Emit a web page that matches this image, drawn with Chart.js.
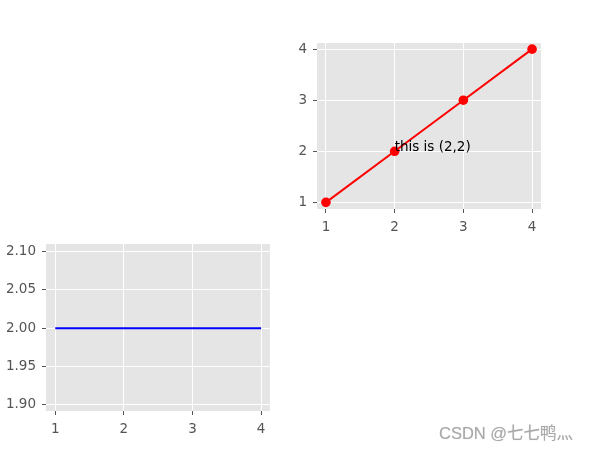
<!DOCTYPE html>
<html>
<head>
<meta charset="utf-8">
<script src="https://cdn.jsdelivr.net/npm/chart.js@4/dist/chart.umd.min.js"></script>
<style>
  body { margin: 0; background: #fff; }
  #wrap { position: relative; width: 590px; height: 449px; overflow: hidden; }
  canvas { position: absolute; left: 0; top: 0; }
  #mark {
    position: absolute; left: 439px; top: 425px;
    font: 16.5px/16px "Liberation Sans", "Noto Sans CJK SC", sans-serif;
    color: #a9a9a9; white-space: nowrap;
    text-shadow: 0 0 1px #d0d0d0;
  }
</style>
</head>
<body>
<div id="wrap">
  <canvas id="topChart" width="590" height="449"></canvas>
  <canvas id="bottomChart" width="590" height="449"></canvas>
  <div id="mark">CSDN @七七鸭灬</div>
</div>
<script>
// top-right subplot
const topX = [1, 2, 3, 4];
const topY = [1, 2, 3, 4];
const topXTicks = [1, 2, 3, 4];
const topYTicks = [1, 2, 3, 4];
const noteText = 'this is (2,2)';
const notePoint = [2, 2];

// bottom-left subplot
const bottomX = [1, 2, 3, 4];
const bottomY = [2, 2, 2, 2];
const bottomXTicks = [1, 2, 3, 4];
const bottomYTicks = [1.90, 1.95, 2.00, 2.05, 2.10];

Chart.defaults.font.family = "'DejaVu Sans', sans-serif";
Chart.defaults.font.size = 13.5;
Chart.defaults.color = '#555';

const panelBg = {
  id: 'panelBg',
  beforeDraw(chart) {
    const a = chart.chartArea;
    const ctx = chart.ctx;
    ctx.save();
    ctx.fillStyle = '#e5e5e5';
    ctx.fillRect(a.left, a.top, a.right - a.left, a.bottom - a.top);
    ctx.restore();
  },
};

const noteLabel = {
  id: 'noteLabel',
  afterDatasetsDraw(chart) {
    const ctx = chart.ctx;
    const px = chart.scales.x.getPixelForValue(notePoint[0]);
    const py = chart.scales.y.getPixelForValue(notePoint[1]);
    ctx.save();
    ctx.fillStyle = '#000';
    ctx.font = "13.5px 'DejaVu Sans', sans-serif";
    ctx.textAlign = 'left';
    ctx.textBaseline = 'alphabetic';
    ctx.fillText(noteText, px, py);
    ctx.restore();
  },
};

function makeAxis(min, max, ticks, size, fmt) {
  return {
    type: 'linear',
    min: min,
    max: max,
    afterBuildTicks: (scale) => {
      scale.ticks = ticks.map((v) => ({ value: v }));
    },
    afterFit: (scale) => {
      if (scale.isHorizontal()) scale.height = size;
      else scale.width = size;
    },
    border: { display: false },
    grid: { color: '#fff', lineWidth: 1, tickColor: '#555', tickLength: 4 },
    ticks: { padding: 6, callback: fmt || ((v) => v) },
  };
}

function pairs(xs, ys) {
  return xs.map((x, i) => ({ x: x, y: ys[i] }));
}

new Chart(document.getElementById('topChart'), {
  type: 'line',
  data: {
    datasets: [
      {
        data: pairs(topX, topY),
        borderColor: '#ff0000',
        backgroundColor: '#ff0000',
        borderWidth: 2,
        pointRadius: 4.8,
        pointBorderWidth: 0,
        tension: 0,
      },
    ],
  },
  options: {
    responsive: false,
    animation: false,
    layout: { padding: { top: 43, right: 49, left: 0, bottom: 0 } },
    plugins: { legend: { display: false }, tooltip: { enabled: false } },
    scales: {
      x: makeAxis(0.87, 4.13, topXTicks, 240),
      y: makeAxis(0.87, 4.12, topYTicks, 317),
    },
  },
  plugins: [panelBg, noteLabel],
});

new Chart(document.getElementById('bottomChart'), {
  type: 'line',
  data: {
    datasets: [
      {
        data: pairs(bottomX, bottomY),
        borderColor: '#0000ff',
        borderWidth: 2,
        pointRadius: 0,
        tension: 0,
      },
    ],
  },
  options: {
    responsive: false,
    animation: false,
    layout: { padding: { top: 244, right: 320, left: 0, bottom: 0 } },
    plugins: { legend: { display: false }, tooltip: { enabled: false } },
    scales: {
      x: makeAxis(0.865, 4.13, bottomXTicks, 38),
      y: makeAxis(1.892, 2.11, bottomYTicks, 46, (v) => Number(v).toFixed(2)),
    },
  },
  plugins: [panelBg],
});
</script>
</body>
</html>
